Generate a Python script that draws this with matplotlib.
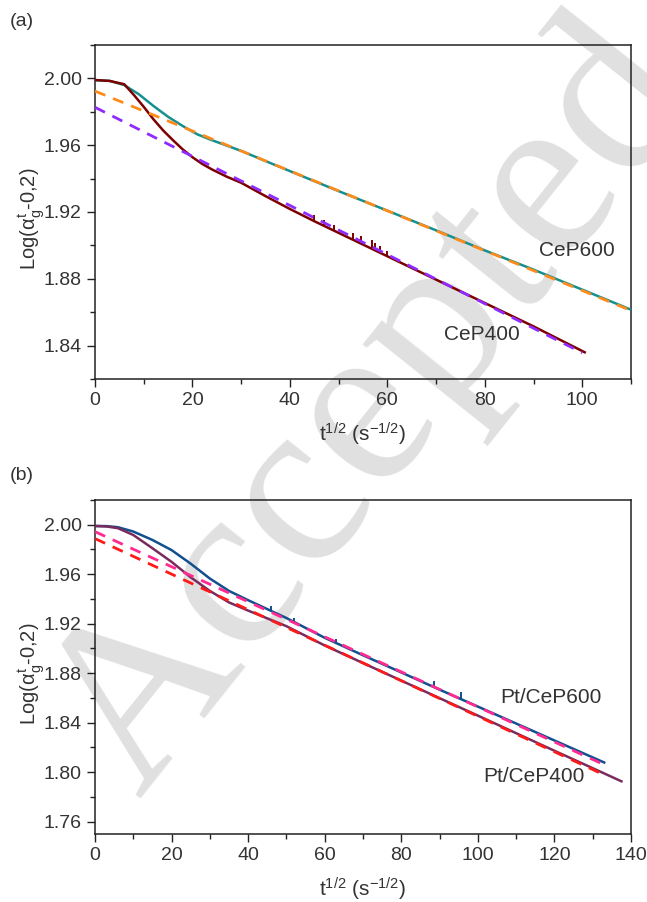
import matplotlib
matplotlib.use('Agg')
import matplotlib.pyplot as plt
from matplotlib.ticker import MultipleLocator, FormatStrFormatter
import numpy as np

# ── Data ──
# panel (a)
cep600_x = [0, 3, 6, 9, 12, 15, 18, 21, 24, 27, 30, 35, 40, 50, 60, 70, 80, 90, 100, 110]
cep600_y = [1.9990, 1.9985, 1.9960, 1.9905, 1.9835, 1.9770, 1.9715, 1.9665, 1.9630, 1.9598,
            1.9566, 1.9505, 1.9445, 1.9325, 1.9208, 1.9090, 1.8970, 1.8855, 1.8735, 1.8615]
cep600_fit_x = [0, 110]
cep600_fit_y = [1.9924, 1.8610]

cep400_x = [0, 3, 6, 8, 10, 12, 14, 16, 18, 20, 22, 24, 27, 30, 35, 40, 45, 50, 55, 60,
            70, 80, 90, 100.5]
cep400_y = [1.9990, 1.9985, 1.9965, 1.9900, 1.9830, 1.9755, 1.9688, 1.9630, 1.9575, 1.9528,
            1.9488, 1.9455, 1.9412, 1.9375, 1.9295, 1.9218, 1.9145, 1.9075, 1.9005, 1.8935,
            1.8795, 1.8655, 1.8515, 1.8360]
cep400_fit_x = [0, 100]
cep400_fit_y = [1.9827, 1.8357]
# noise spikes on CeP400 (x, bottom, top)
cep400_spike_x = [45, 47, 49, 53, 54.5, 56.8, 57.5, 58.5, 60]
cep400_spike_lo = [1.9145, 1.9117, 1.9089, 1.9033, 1.9012, 1.8979, 1.8970, 1.8956, 1.8935]
cep400_spike_hi = [1.9180, 1.9150, 1.9125, 1.9075, 1.9055, 1.9030, 1.9015, 1.8995, 1.8965]

# panel (b)
pt600_x = [0, 3, 6, 10, 15, 20, 25, 30, 35, 40, 50, 60, 70, 80, 90, 100, 110, 120, 133]
pt600_y = [1.9990, 1.9989, 1.9980, 1.9945, 1.9877, 1.9795, 1.9685, 1.9565, 1.9465, 1.9390,
           1.9246, 1.9086, 1.8945, 1.8806, 1.8667, 1.8530, 1.8393, 1.8256, 1.8078]
pt600_fit_x = [0, 133]
pt600_fit_y = [1.9944, 1.8060]
pt600_spike_x = [46, 52, 63, 88.5, 95.5]
pt600_spike_lo = [1.9306, 1.9214, 1.9044, 1.8688, 1.8590]
pt600_spike_hi = [1.9340, 1.9250, 1.9080, 1.8740, 1.8650]

pt400_x = [0, 3, 6, 10, 15, 20, 25, 30, 35, 40, 50, 60, 70, 80, 90, 100, 110, 120, 130, 137.5]
pt400_y = [1.9990, 1.9986, 1.9972, 1.9917, 1.9810, 1.9700, 1.9575, 1.9465, 1.9372, 1.9306,
           1.9180, 1.9024, 1.8882, 1.8740, 1.8598, 1.8457, 1.8315, 1.8173, 1.8032, 1.7926]
pt400_fit_x = [0, 133]
pt400_fit_y = [1.9888, 1.7978]

# ── Style ──
plt.rcParams['font.family'] = ['Liberation Sans', 'DejaVu Sans']
plt.rcParams['mathtext.fontset'] = 'custom'
plt.rcParams['mathtext.rm'] = 'Liberation Sans'
plt.rcParams['mathtext.it'] = 'Liberation Sans:italic'
plt.rcParams['mathtext.default'] = 'regular'
TXT = '#333333'
FS = 14

W, H = 647, 902
fig = plt.figure(figsize=(W / 100, H / 100), dpi=100)

# watermark behind everything
fig.text(140 / W, 1 - 800 / H, "Accepted Manuscript", family='Liberation Serif', fontsize=172,
         color='#e0e0e0', rotation=51.4, rotation_mode='anchor', ha='left', va='baseline',
         zorder=-1)


def px_axes(l, t, r, b):
    return fig.add_axes([l / W, 1 - b / H, (r - l) / W, (b - t) / H])


def style(ax, xmax, xmaj, ymin, ymax):
    ax.set_facecolor('none')
    ax.set_xlim(0, xmax)
    ax.set_ylim(ymin, ymax)
    ax.xaxis.set_major_locator(MultipleLocator(xmaj))
    ax.xaxis.set_minor_locator(MultipleLocator(xmaj / 2))
    ax.yaxis.set_major_locator(MultipleLocator(0.04))
    ax.yaxis.set_minor_locator(MultipleLocator(0.02))
    ax.yaxis.set_major_formatter(FormatStrFormatter('%.2f'))
    ax.tick_params(which='both', direction='out', colors='#222222', labelcolor=TXT,
                   labelsize=FS, width=1)
    ax.tick_params(which='major', length=6)
    ax.tick_params(which='minor', length=3.5)
    for s in ax.spines.values():
        s.set_linewidth(1.1)
        s.set_color('#222222')
    ax.set_xlabel(r'$t^{1/2}$ (s$^{-1/2}$)', fontsize=FS + 1, color=TXT)
    ax.set_ylabel(r'Log($\alpha_g^t$-0,2)', fontsize=FS + 0.5, color=TXT)
    ax.yaxis.set_label_coords(-0.09, 0.48)
    ax.xaxis.set_label_coords(0.5, -0.125)


# ── Panel (a) ──
ax1 = px_axes(95, 45, 631, 379)
style(ax1, 110, 20, 1.82, 2.02)
ax1.plot(cep600_x, cep600_y, color='#168f8f', lw=1.8, zorder=3)
ax1.plot(cep400_x, cep400_y, color='#7d0000', lw=1.8, zorder=3)
ax1.vlines(cep400_spike_x, cep400_spike_lo, cep400_spike_hi, color='#7d0000', lw=1.4, zorder=3)
ax1.plot(cep600_fit_x, cep600_fit_y, color='#ff8c1a', lw=2, dashes=(4, 3), zorder=4)
ax1.plot(cep400_fit_x, cep400_fit_y, color='#8f2bff', lw=2, dashes=(4, 3), zorder=4)
ax1.text(98.9, 1.8967, 'CeP600', fontsize=FS + 1, color=TXT, ha='center', va='center')
ax1.text(79.4, 1.8466, 'CeP400', fontsize=FS + 1, color=TXT, ha='center', va='center')
fig.text(10 / W, 1 - 22 / H, '(a)', fontsize=FS, color=TXT, ha='left', va='center')

# ── Panel (b) ──
ax2 = px_axes(95, 500, 631, 834)
style(ax2, 140, 20, 1.75, 2.02)
ax2.plot(pt600_x, pt600_y, color='#114f8e', lw=1.8, zorder=3)
ax2.vlines(pt600_spike_x, pt600_spike_lo, pt600_spike_hi, color='#114f8e', lw=1.4, zorder=3)
ax2.plot(pt400_x, pt400_y, color='#7a2b5e', lw=1.8, zorder=3)
ax2.plot(pt600_fit_x, pt600_fit_y, color='#ff2a92', lw=2, dashes=(4, 3), zorder=4)
ax2.plot(pt400_fit_x, pt400_fit_y, color='#ff1a1a', lw=2, dashes=(4, 3), zorder=4)
ax2.text(119, 1.860, 'Pt/CeP600', fontsize=FS + 1, color=TXT, ha='center', va='center')
ax2.text(114.6, 1.7968, 'Pt/CeP400', fontsize=FS + 1, color=TXT, ha='center', va='center')
fig.text(10 / W, 1 - 476 / H, '(b)', fontsize=FS, color=TXT, ha='left', va='center')

fig.savefig('out.png', dpi=100)
